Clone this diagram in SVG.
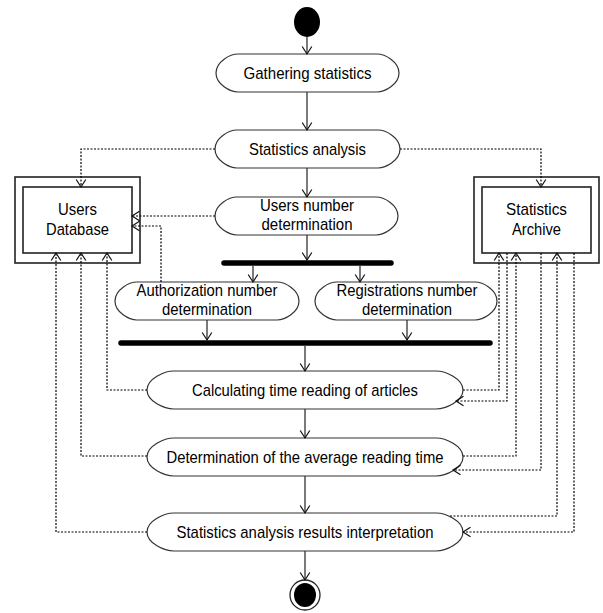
<svg xmlns="http://www.w3.org/2000/svg" width="603" height="613" viewBox="0 0 603 613">
  <defs>
    <style>
      .act { fill: #fff; stroke: #333; stroke-width: 1.2; }
      .box { fill: #fff; stroke: #222; stroke-width: 1.6; }
      .bar { stroke: #000; stroke-width: 5.5; stroke-linecap: round; }
      .flow { fill: none; stroke: #333; stroke-width: 1.3; marker-end: url(#head); }
      .obj { fill: none; stroke: #000; stroke-width: 1.2; stroke-dasharray: 2 1.5; marker-end: url(#head); }
      text { font-family: "Liberation Sans", Arial, sans-serif; font-size: 17px; fill: #000; text-anchor: middle; }
    </style>
    <marker id="head" viewBox="-9 -6 11 12" refX="0" refY="0" markerWidth="11" markerHeight="12" markerUnits="userSpaceOnUse" orient="auto">
      <path d="M-7.5,-4.8 L0,0 L-7.5,4.8" fill="none" stroke="#111" stroke-width="1.2"/>
    </marker>
  </defs>

  <g id="start">
    <ellipse cx="307" cy="22" rx="13" ry="15" fill="#000"/>
  </g>

  <g id="gathering">
    <path class="act" d="M238,54 H377 C384.7,54 399,61.6 399,73 C399,84.4 384.7,92 377,92 H238 C230.3,92 216,84.4 216,73 C216,61.6 230.3,54 238,54 Z"/>
    <text x="307.5" y="79" textLength="128" lengthAdjust="spacingAndGlyphs">Gathering statistics</text>
  </g>

  <g id="analysis">
    <path class="act" d="M237,130 H378 C385.7,130 400,137.6 400,149 C400,160.4 385.7,168 378,168 H237 C229.3,168 215,160.4 215,149 C215,137.6 229.3,130 237,130 Z"/>
    <text x="307.5" y="155" textLength="117" lengthAdjust="spacingAndGlyphs">Statistics analysis</text>
  </g>

  <g id="users-number">
    <path class="act" d="M237,197 H376 C383.7,197 398,204.6 398,216 C398,227.4 383.7,235 376,235 H237 C229.3,235 215,227.4 215,216 C215,204.6 229.3,197 237,197 Z"/>
    <text x="307" y="211" textLength="94" lengthAdjust="spacingAndGlyphs">Users number</text>
    <text x="307" y="230" textLength="91" lengthAdjust="spacingAndGlyphs">determination</text>
  </g>

  <g id="fork">
    <line class="bar" x1="224" y1="263" x2="391" y2="263"/>
  </g>

  <g id="authorization">
    <path class="act" d="M137,282 H277 C284.7,282 299,289.6 299,301 C299,312.4 284.7,320 277,320 H137 C129.3,320 115,312.4 115,301 C115,289.6 129.3,282 137,282 Z"/>
    <text x="207" y="296" textLength="141" lengthAdjust="spacingAndGlyphs">Authorization number</text>
    <text x="207" y="315" textLength="90" lengthAdjust="spacingAndGlyphs">determination</text>
  </g>

  <g id="registrations">
    <path class="act" d="M337,282 H475 C482.7,282 497,289.6 497,301 C497,312.4 482.7,320 475,320 H337 C329.3,320 315,312.4 315,301 C315,289.6 329.3,282 337,282 Z"/>
    <text x="407" y="296" textLength="141" lengthAdjust="spacingAndGlyphs">Registrations number</text>
    <text x="407" y="315" textLength="90" lengthAdjust="spacingAndGlyphs">determination</text>
  </g>

  <g id="join">
    <line class="bar" x1="121" y1="343" x2="490" y2="343"/>
  </g>

  <g id="calculating">
    <path class="act" d="M174,371 H436 C445.5,371 463,378.6 463,390 C463,401.4 445.5,409 436,409 H174 C164.5,409 147,401.4 147,390 C147,378.6 164.5,371 174,371 Z"/>
    <text x="305" y="395.5" textLength="226" lengthAdjust="spacingAndGlyphs">Calculating time reading of articles</text>
  </g>

  <g id="average">
    <path class="act" d="M174,438 H436 C445.5,438 463,445.6 463,457 C463,468.4 445.5,476 436,476 H174 C164.5,476 147,468.4 147,457 C147,445.6 164.5,438 174,438 Z"/>
    <text x="305" y="462.5" textLength="277" lengthAdjust="spacingAndGlyphs">Determination of the average reading time</text>
  </g>

  <g id="interpretation">
    <path class="act" d="M174,513 H436 C445.5,513 463,520.6 463,532 C463,543.4 445.5,551 436,551 H174 C164.5,551 147,543.4 147,532 C147,520.6 164.5,513 174,513 Z"/>
    <text x="305" y="537.5" textLength="257" lengthAdjust="spacingAndGlyphs">Statistics analysis results interpretation</text>
  </g>

  <g id="end">
    <ellipse cx="305" cy="595" rx="15" ry="15" fill="#fff" stroke="#222" stroke-width="1.3"/>
    <ellipse cx="305" cy="595" rx="11" ry="12" fill="#000"/>
  </g>

  <g id="users-db">
    <rect class="box" x="15" y="177" width="125" height="86"/>
    <rect class="box" x="23" y="187" width="109" height="66"/>
    <text x="77.5" y="215" textLength="39" lengthAdjust="spacingAndGlyphs">Users</text>
    <text x="77.5" y="235" textLength="63" lengthAdjust="spacingAndGlyphs">Database</text>
  </g>

  <g id="stats-archive">
    <rect class="box" x="474" y="177" width="125" height="86"/>
    <rect class="box" x="482" y="187" width="109" height="66"/>
    <text x="536.5" y="215" textLength="61" lengthAdjust="spacingAndGlyphs">Statistics</text>
    <text x="536.5" y="235" textLength="49" lengthAdjust="spacingAndGlyphs">Archive</text>
  </g>

  <g id="connectors">
    <!-- object flows (dotted) -->
    <path class="obj" d="M215,149 H81 V187"/>
    <path class="obj" d="M400,149 H541 V187"/>
    <path class="obj" d="M215,216 H132"/>
    <path class="obj" d="M161,282 V226 H132"/>
    <path class="obj" d="M147,390 H107 V253"/>
    <path class="obj" d="M147,456 H81 V253"/>
    <path class="obj" d="M147,532 H56 V253"/>
    <path class="obj" d="M463,390 H499 V253"/>
    <path class="obj" d="M507,253 V401 H456"/>
    <path class="obj" d="M463,456 H516 V253"/>
    <path class="obj" d="M541,253 V470 H453"/>
    <path class="obj" d="M450,516 H557 V253"/>
    <path class="obj" d="M574,253 V532 H463"/>

    <!-- control flows -->
    <path class="flow" d="M307,37 V54"/>
    <path class="flow" d="M307,92 V130"/>
    <path class="flow" d="M307,168 V197"/>
    <path class="flow" d="M307,235 V260"/>
    <path class="flow" d="M253,266 V282"/>
    <path class="flow" d="M360,266 V282"/>
    <path class="flow" d="M207,320 V340"/>
    <path class="flow" d="M407,320 V340"/>
    <path class="flow" d="M305,346 V371"/>
    <path class="flow" d="M305,409 V438"/>
    <path class="flow" d="M305,476 V513"/>
    <path class="flow" d="M305,551 V580"/>
  </g>
</svg>
